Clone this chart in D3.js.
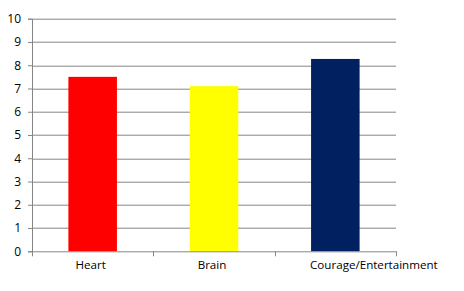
<!DOCTYPE html>
<html>
<head>
<meta charset="utf-8">
<script src="https://cdn.jsdelivr.net/npm/d3@7"></script>
<style>
body { margin:0; background:#fff; }
text { font-family:"Open Sans","Noto Sans",sans-serif; font-size:11.6px; fill:#000; }
</style>
</head>
<body>
<svg id="graph"></svg>
<script>
var categories = ["Heart","Brain","Courage/Entertainment"]
var values = [7.5,7.1,8.27]
var colors = ["#ff0000","#ffff00","#002060"]
var yTicks = [0,1,2,3,4,5,6,7,8,9,10]

var initGraph = function()
{
    var screen = {width:464,height:291}
    var margins = {left:32,right:68,top:18.7,bottom:39.7}

    var graph =
        {
            width:screen.width-margins.left-margins.right,
            height:screen.height-margins.top-margins.bottom
        };

    var svg = d3.select("#graph")
        .attr("width",screen.width)
        .attr("height",screen.height)

    var xScale = d3.scaleBand()
        .domain(categories)
        .range([0,graph.width])
        .paddingInner(0.6)
        .paddingOuter(0.3)

    var bandScale = d3.scaleBand()
        .domain(categories)
        .range([0,graph.width])

    var yScale = d3.scaleLinear()
        .domain([0,10])
        .range([graph.height,0])

    var target = svg.append("g")
        .attr("transform","translate("+margins.left+","+margins.top+")")

    //gridlines
    target.append("g")
        .selectAll("line")
        .data(yTicks.slice(1))
        .enter()
        .append("line")
        .attr("x1",0)
        .attr("x2",graph.width)
        .attr("y1",function(d){return Math.round(yScale(d))+0.5})
        .attr("y2",function(d){return Math.round(yScale(d))+0.5})
        .attr("stroke","#868686")

    //bars
    target.selectAll("rect")
        .data(values)
        .enter()
        .append("rect")
        .attr("x",function(d,i){return xScale(categories[i])})
        .attr("y",function(d){return yScale(d)})
        .attr("width",xScale.bandwidth())
        .attr("height",function(d){return graph.height-yScale(d)})
        .attr("fill",function(d,i){return colors[i]})

    //y axis
    var yAxis = d3.axisLeft(yScale).tickValues(yTicks).tickSize(4).tickPadding(7)
    var yg = target.append("g").call(yAxis)
    yg.select(".domain").attr("stroke","#868686")
    yg.selectAll(".tick line").attr("stroke","#868686")
    yg.selectAll("text").style("font-size","12px")

    //x axis
    var xg = target.append("g")
        .attr("transform","translate(0,"+graph.height+")")
    xg.append("line")
        .attr("x1",0).attr("x2",graph.width)
        .attr("y1",0.5).attr("y2",0.5)
        .attr("stroke","#868686")
    var bounds = [0].concat(categories.map(function(c){return bandScale(c)+bandScale.bandwidth()}))
    xg.selectAll("line.tk")
        .data(bounds)
        .enter()
        .append("line")
        .attr("class","tk")
        .attr("x1",function(d){return Math.round(d)+0.5})
        .attr("x2",function(d){return Math.round(d)+0.5})
        .attr("y1",0).attr("y2",5)
        .attr("stroke","#868686")
    xg.selectAll("text")
        .data(categories)
        .enter()
        .append("text")
        .text(function(d){return d})
        .attr("text-anchor",function(d,i){return i==2?"start":"middle"})
        .attr("x",function(d,i){
            return i==2 ? xScale(d)-1 : bandScale(d)+bandScale.bandwidth()/2-2
        })
        .attr("y",17.5)
}

initGraph();
</script>
</body>
</html>
